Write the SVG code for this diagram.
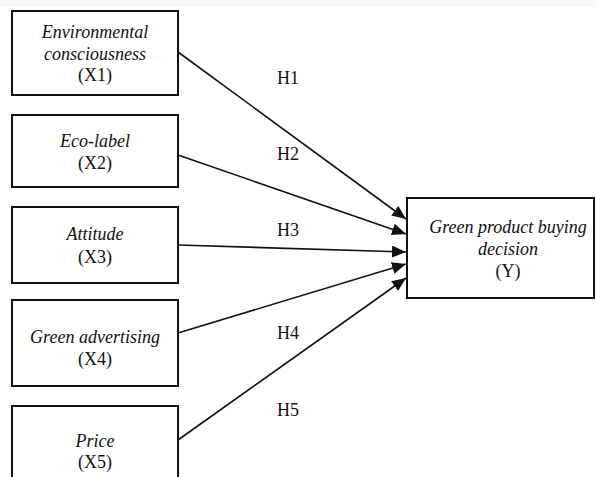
<svg xmlns="http://www.w3.org/2000/svg" width="596" height="477" viewBox="0 0 596 477">
  <style>
    .box { fill: #ffffff; stroke: #111111; stroke-width: 2; }
    .t { font-family: "Liberation Serif", "Times New Roman", serif; font-size: 18px; fill: #111111; text-anchor: middle; }
    .i { font-style: italic; }
    .edge { stroke: #111111; stroke-width: 1.6; fill: none; marker-end: url(#arrow); }
  </style>
  <defs>
    <marker id="arrow" markerUnits="userSpaceOnUse" markerWidth="14" markerHeight="12" viewBox="0 0 14 12" refX="14" refY="6" orient="auto">
      <path d="M0,0 L14,6 L0,12 Z" fill="#111111"/>
    </marker>
  </defs>
  <rect x="0" y="0" width="596" height="477" fill="#ffffff"/>
  <rect x="0" y="0" width="596" height="7" fill="#f7f7f7"/>

  <g id="connectors">
    <line class="edge" x1="178" y1="52" x2="406" y2="219"/>
    <line class="edge" x1="178" y1="155" x2="406" y2="234"/>
    <line class="edge" x1="178" y1="245" x2="406" y2="252"/>
    <line class="edge" x1="178" y1="333" x2="406" y2="264"/>
    <line class="edge" x1="178" y1="440" x2="406" y2="278"/>
    <text class="t" x="288" y="84">H1</text>
    <text class="t" x="288" y="160">H2</text>
    <text class="t" x="288" y="236">H3</text>
    <text class="t" x="288" y="339">H4</text>
    <text class="t" x="288" y="416">H5</text>
  </g>

  <g id="x1">
    <rect class="box" x="12" y="11" width="166" height="84"/>
    <text class="t i" x="95" y="38">Environmental</text>
    <text class="t i" x="95" y="60">consciousness</text>
    <text class="t" x="95" y="81">(X1)</text>
  </g>
  <g id="x2">
    <rect class="box" x="12" y="115" width="166" height="72"/>
    <text class="t i" x="95" y="147">Eco-label</text>
    <text class="t" x="95" y="169">(X2)</text>
  </g>
  <g id="x3">
    <rect class="box" x="12" y="207" width="166" height="76"/>
    <text class="t i" x="95" y="240">Attitude</text>
    <text class="t" x="95" y="263">(X3)</text>
  </g>
  <g id="x4">
    <rect class="box" x="12" y="300" width="166" height="86"/>
    <text class="t i" x="95" y="343">Green advertising</text>
    <text class="t" x="95" y="365">(X4)</text>
  </g>
  <g id="x5">
    <rect class="box" x="12" y="406" width="166" height="80"/>
    <text class="t i" x="95" y="447">Price</text>
    <text class="t" x="95" y="468">(X5)</text>
  </g>
  <g id="y">
    <rect class="box" x="407" y="198" width="187" height="100"/>
    <text class="t i" x="508" y="233">Green product buying</text>
    <text class="t i" x="508" y="255">decision</text>
    <text class="t" x="508" y="277">(Y)</text>
  </g>
</svg>
